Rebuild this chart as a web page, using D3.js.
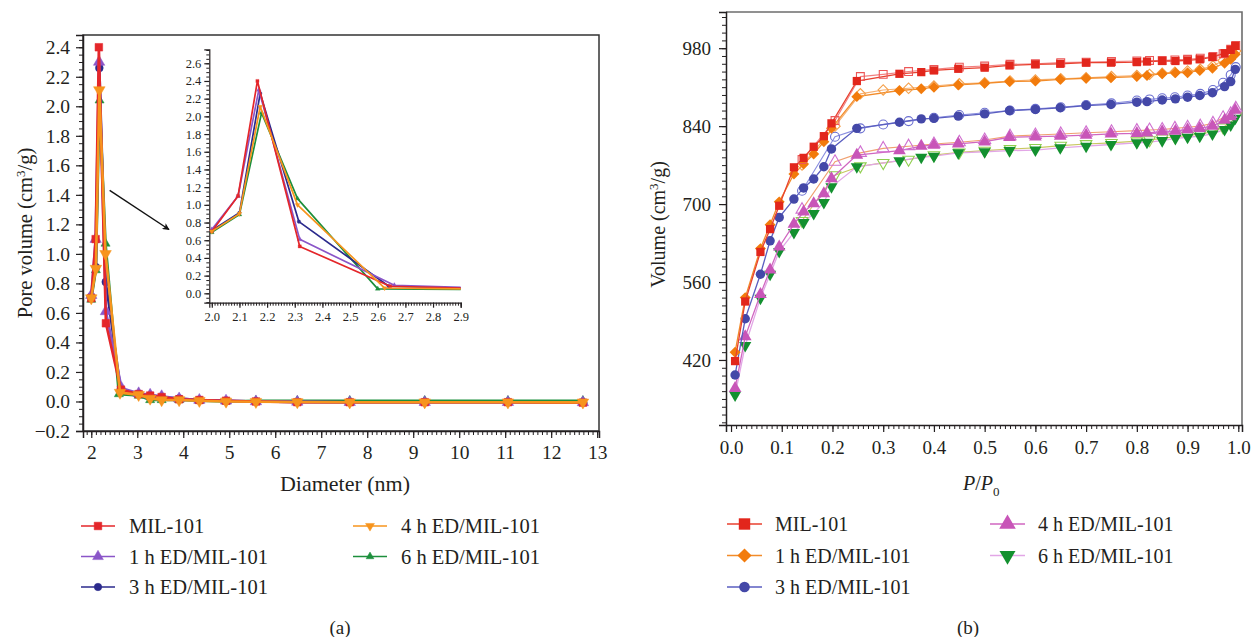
<!DOCTYPE html>
<html>
<head>
<meta charset="utf-8">
<script src="https://cdn.jsdelivr.net/npm/d3@7"></script>
<style>
  body { margin: 0; background: #fff; }
  text { font-family: "Liberation Serif", "DejaVu Serif", serif; fill: #231f20; }
</style>
</head>
<body>
<svg id="fig" width="1253" height="637"></svg>
<script>
// ---------------- shared ----------------
const sampleNames = ["MIL-101", "1 h ED/MIL-101", "3 h ED/MIL-101", "4 h ED/MIL-101", "6 h ED/MIL-101"];

// ---------------- (a) pore size distribution ----------------
// first five diameters differ slightly between samples, the tail is shared
const psdHeadMIL = [2.0, 2.095, 2.165, 2.318, 2.645];
const psdHead1h  = [2.0, 2.095, 2.170, 2.318, 2.660];
const psdHead3h  = [2.0, 2.100, 2.175, 2.315, 2.640];
const psdHead4h  = [2.0, 2.100, 2.175, 2.310, 2.625];
const psdHead6h  = [2.0, 2.100, 2.180, 2.310, 2.600];
const psdTail    = [3.03, 3.28, 3.53, 3.91, 4.35, 4.93, 5.58, 6.48, 7.62, 9.25, 11.06, 12.69];

const poreMIL = [0.70, 1.10, 2.40, 0.53, 0.08, 0.050, 0.040, 0.030, 0.015, 0.010, 0.005, 0.000, -0.005, -0.005, -0.005, -0.005, -0.008];
const pore1h  = [0.72, 1.10, 2.30, 0.61, 0.09, 0.055, 0.045, 0.035, 0.020, 0.010, 0.005, 0.000, -0.003, -0.005, -0.005, -0.005, -0.006];
const pore3h  = [0.71, 0.91, 2.26, 0.81, 0.08, 0.050, 0.040, 0.030, 0.020, 0.010, 0.005, 0.000, -0.003, -0.005, -0.005, -0.005, -0.006];
const pore4h  = [0.70, 0.90, 2.11, 1.00, 0.06, 0.045, 0.020, 0.010, 0.010, 0.005, 0.000, -0.002, -0.004, -0.005, -0.005, -0.005, -0.006];
const pore6h  = [0.69, 0.89, 2.04, 1.07, 0.05, 0.040, 0.010, 0.010, 0.010, 0.005, 0.000, 0.005, 0.005, 0.005, 0.005, 0.005, 0.005];

const psdColors = ["#e4262a", "#8a55c8", "#2b2a8c", "#f7941d", "#1d8f3c"];
const psdShapes = ["square", "triUp", "circle", "triDown", "triUp"];
const psdSizes  = [58, 56, 48, 58, 36];
const psdLegendSizes = [58, 50, 44, 34, 26];

const psdXTicks = d3.range(2, 14);
const psdYTicks = d3.range(-1, 13).map(i => i / 5);
const insetXTicks = d3.range(20, 30).map(i => i / 10);
const insetYTicks = d3.range(0, 14).map(i => i / 5);

// ---------------- (b) N2 isotherms ----------------
const pAds = [0.008, 0.028, 0.058, 0.077, 0.095, 0.124, 0.143, 0.163, 0.183, 0.198, 0.248, 0.332, 0.375, 0.400, 0.448, 0.500,
              0.549, 0.600, 0.649, 0.700, 0.749, 0.800, 0.820, 0.850, 0.876, 0.900, 0.924, 0.949, 0.973, 0.985, 0.994];
const adsMIL = [418, 525, 614, 655, 697, 766, 783, 803, 822, 845, 921, 934, 937, 940, 943, 945, 949, 951, 952, 954, 954, 955, 956, 957, 957, 958, 960, 964, 971, 977, 984];
const ads1h  = [434, 532, 620, 663, 704, 754, 772, 790, 812, 836, 893, 904, 907, 910, 914, 917, 920, 921, 924, 926, 927, 929, 931, 934, 936, 936, 940, 944, 953, 960, 969];
const ads3h  = [393, 494, 574, 634, 676, 709, 729, 745, 767, 799, 836, 847, 853, 854, 858, 862, 868, 870, 873, 877, 879, 883, 884, 887, 889, 892, 895, 900, 911, 920, 942];
const ads4h  = [369, 462, 538, 582, 623, 664, 686, 701, 719, 746, 788, 796, 804, 806, 808, 812, 820, 821, 822, 824, 826, 827, 828, 830, 831, 834, 836, 840, 851, 857, 869];
const ads6h  = [357, 446, 531, 574, 615, 649, 667, 683, 703, 731, 767, 778, 784, 786, 792, 794, 796, 797, 801, 804, 807, 810, 811, 814, 818, 820, 822, 826, 834, 842, 854];

const pDes = [0.995, 0.985, 0.970, 0.950, 0.925, 0.900, 0.875, 0.850, 0.825, 0.800, 0.750, 0.700, 0.650, 0.600, 0.550, 0.500,
              0.450, 0.400, 0.350, 0.300, 0.255, 0.205, 0.140];
const desMIL = [985, 978, 970, 965, 962, 960, 959, 958, 958, 957, 956, 955, 954, 952, 951, 948, 946, 942, 938, 933, 929, 850, 780];
const des1h  = [975, 965, 958, 948, 942, 939, 937, 935, 933, 931, 929, 927, 925, 923, 921, 918, 916, 912, 908, 905, 898, 840, 770];
const des3h  = [946, 932, 918, 905, 898, 895, 892, 890, 888, 886, 881, 878, 874, 871, 868, 864, 860, 855, 849, 843, 836, 821, 724];
const des4h  = [872, 862, 855, 845, 840, 838, 836, 834, 833, 832, 830, 828, 826, 824, 822, 815, 811, 808, 804, 800, 792, 776, 690];
const des6h  = [858, 846, 838, 830, 826, 823, 821, 818, 815, 813, 810, 808, 805, 801, 799, 796, 793, 788, 780, 774, 768, 752, 670];

const isoMarkColors = ["#e2261c", "#f27b0c", "#4448a8", "#c855b8", "#13902f"];
const isoAdsLine    = ["#e8402f", "#f28c2a", "#5a5ec0", "#d066c0", "#e2a6e6"];
const isoDesMark    = ["#ec5656", "#f5a04a", "#6a6ed0", "#d070d0", "#8fcf4f"];
const isoDesLine    = ["#f28080", "#f7b070", "#8a8ee0", "#f0a070", "#c8c860"];
const isoShapes = ["square", "diamond", "circle", "triUp", "triDown"];
const isoSizes  = [68, 60, 70, 70, 64];
const isoLegendSizes = [130, 100, 88, 120, 110];

const isoXTicks = d3.range(0, 11).map(i => i / 10);
const isoYTicks = [420, 560, 700, 840, 980];

// ---------------- helpers ----------------
const svg = d3.select("#fig");
const symbolTypes = {
  square:  [d3.symbolSquare, 0],
  circle:  [d3.symbolCircle, 0],
  triUp:   [d3.symbolTriangle, 0],
  triDown: [d3.symbolTriangle, 180],
  diamond: [d3.symbolSquare, 45]
};
function drawMarks(g, pts, shape, size, fill, stroke, sw) {
  const [type, rot] = symbolTypes[shape];
  g.selectAll(null).data(pts).join("path")
    .attr("d", d3.symbol(type, size)())
    .attr("transform", d => `translate(${d[0]},${d[1]}) rotate(${rot})`)
    .attr("fill", fill)
    .attr("stroke", stroke)
    .attr("stroke-width", sw);
}
function styleAxis(g, fontSize) {
  g.attr("font-family", null);
  g.selectAll("text").style("font-size", fontSize + "px").attr("fill", "#231f20");
  g.selectAll("line").attr("stroke", "#231f20").attr("stroke-width", 1.2);
  g.select(".domain").attr("stroke", "#231f20").attr("stroke-width", 1.5);
}
function minorAxis(g, axis) {
  g.call(axis);
  g.select(".domain").remove();
  g.selectAll("line").attr("stroke", "#231f20").attr("stroke-width", 1);
}
const fmt1 = d3.format(".1f");

// ================= panel (a) =================
const A = { l: 83, t: 35, r: 599, b: 431 };
const xA = d3.scaleLinear().domain([1.82, 13.04]).range([A.l, A.r]);
const yA = d3.scaleLinear().domain([-0.2, 2.483]).range([A.b, A.t]);
const gA = svg.append("g");

// frame
gA.append("rect").attr("x", A.l).attr("y", A.t).attr("width", A.r - A.l).attr("height", A.b - A.t)
  .attr("fill", "none").attr("stroke", "#333").attr("stroke-width", 1.5);

minorAxis(gA.append("g").attr("transform", `translate(0,${A.b})`),
  d3.axisBottom(xA).tickValues(d3.range(19, 131).map(i => i / 10)).tickSize(4).tickFormat(""));
minorAxis(gA.append("g").attr("transform", `translate(${A.l},0)`),
  d3.axisLeft(yA).tickValues(d3.range(-4, 50).map(i => i / 20)).tickSize(4).tickFormat(""));
gA.append("g").attr("transform", `translate(0,${A.b})`)
  .call(d3.axisBottom(xA).tickValues(psdXTicks).tickSize(7).tickPadding(7).tickFormat(d3.format("d")))
  .call(g => styleAxis(g, 19.5));
gA.append("g").attr("transform", `translate(${A.l},0)`)
  .call(d3.axisLeft(yA).tickValues(psdYTicks).tickSize(7).tickPadding(6).tickFormat(fmt1))
  .call(g => styleAxis(g, 19.5));

// axis titles
gA.append("text").attr("x", (A.l + A.r) / 2 + 4).attr("y", 491).attr("text-anchor", "middle")
  .style("font-size", "22px").text("Diameter (nm)");
const ytA = gA.append("text").attr("transform", `translate(32,${(A.t + A.b) / 2}) rotate(-90)`)
  .attr("text-anchor", "middle").style("font-size", "20.5px");
ytA.append("tspan").text("Pore volume (cm");
ytA.append("tspan").attr("dy", -7).style("font-size", "13px").text("3");
ytA.append("tspan").attr("dy", 7).text("/g)");

const psdHeads = [psdHeadMIL, psdHead1h, psdHead3h, psdHead4h, psdHead6h];
const psdVals  = [poreMIL, pore1h, pore3h, pore4h, pore6h];
const psdSeries = sampleNames.map((name, i) => ({
  name, color: psdColors[i], shape: psdShapes[i], size: psdSizes[i],
  pts: psdHeads[i].concat(psdTail).map((d, j) => [d, psdVals[i][j]])
}));
// drawing order: 6 h, 3 h, 1 h, MIL-101, 4 h
const psdOrder = [4, 2, 1, 0, 3];

const clipA = svg.append("clipPath").attr("id", "clipA");
clipA.append("rect").attr("x", A.l).attr("y", A.t).attr("width", A.r - A.l).attr("height", A.b - A.t);
const plotA = gA.append("g").attr("clip-path", "url(#clipA)");
const lineA = d3.line().x(d => xA(d[0])).y(d => yA(d[1]));
psdOrder.forEach(i => {
  const s = psdSeries[i];
  plotA.append("path").attr("d", lineA(s.pts)).attr("fill", "none")
    .attr("stroke", s.color).attr("stroke-width", 2.6).attr("stroke-linejoin", "round");
  drawMarks(plotA.append("g"), s.pts.map(d => [xA(d[0]), yA(d[1])]), s.shape, s.size, s.color, s.color, 0.5);
});

// pointer arrow to the inset
const arrowFrom = [2.40, 1.43], arrowTo = [3.69, 1.165];
svg.append("defs").append("marker").attr("id", "arrowHead")
  .attr("viewBox", "0 0 10 10").attr("refX", 9).attr("refY", 5)
  .attr("markerWidth", 9).attr("markerHeight", 7).attr("markerUnits", "userSpaceOnUse")
  .attr("orient", "auto")
  .append("path").attr("d", "M0,0 L10,5 L0,10 L2.5,5 Z").attr("fill", "#111");
gA.append("line")
  .attr("x1", xA(arrowFrom[0])).attr("y1", yA(arrowFrom[1]))
  .attr("x2", xA(arrowTo[0])).attr("y2", yA(arrowTo[1]))
  .attr("stroke", "#111").attr("stroke-width", 1.4).attr("marker-end", "url(#arrowHead)");

// inset: zoom on the peak region
const I = { l: 209.3, t: 49.3, r: 460.7, b: 302.7 };
const xI = d3.scaleLinear().domain([1.991, 2.9]).range([I.l, I.r]);
const yI = d3.scaleLinear().domain([-0.106, 2.758]).range([I.b, I.t]);
const gI = gA.append("g");
gI.append("rect").attr("x", I.l).attr("y", I.t).attr("width", I.r - I.l).attr("height", I.b - I.t).attr("fill", "#fff");
minorAxis(gI.append("g").attr("transform", `translate(0,${I.b})`),
  d3.axisBottom(xI).tickValues(d3.range(200, 291).map(i => i / 100)).tickSize(3).tickFormat(""));
minorAxis(gI.append("g").attr("transform", `translate(${I.l},0)`),
  d3.axisLeft(yI).tickValues(d3.range(-2, 56).map(i => i / 20)).tickSize(3).tickFormat(""));
gI.append("g").attr("transform", `translate(0,${I.b})`)
  .call(d3.axisBottom(xI).tickValues(insetXTicks).tickSize(5).tickPadding(4).tickFormat(fmt1))
  .call(g => styleAxis(g, 12.5));
gI.append("g").attr("transform", `translate(${I.l},0)`)
  .call(d3.axisLeft(yI).tickValues(insetYTicks).tickSize(5).tickPadding(3).tickFormat(fmt1))
  .call(g => styleAxis(g, 12.5));
gI.selectAll(".domain").attr("stroke-width", 1.2);

const clipI = svg.append("clipPath").attr("id", "clipI");
clipI.append("rect").attr("x", I.l).attr("y", I.t).attr("width", I.r - I.l).attr("height", I.b - I.t);
const plotI = gI.append("g").attr("clip-path", "url(#clipI)");
const lineI = d3.line().x(d => xI(d[0])).y(d => yI(d[1]));
psdOrder.forEach(i => {
  const s = psdSeries[i];
  plotI.append("path").attr("d", lineI(s.pts)).attr("fill", "none")
    .attr("stroke", s.color).attr("stroke-width", 1.7).attr("stroke-linejoin", "round");
  drawMarks(plotI.append("g"), s.pts.map(d => [xI(d[0]), yI(d[1])]), s.shape, 10, s.color, s.color, 0.3);
});

// legend (a)
const legA = [[81, 526], [81, 556.5], [81, 587], [353, 526], [353, 556.5]];
sampleNames.forEach((name, i) => {
  const [x0, y0] = legA[i];
  const g = gA.append("g");
  g.append("line").attr("x1", x0).attr("x2", x0 + 34).attr("y1", y0).attr("y2", y0)
    .attr("stroke", psdColors[i]).attr("stroke-width", 1.5);
  drawMarks(g, [[x0 + 17, y0]], psdShapes[i], psdLegendSizes[i], psdColors[i], psdColors[i], 0.5);
  g.append("text").attr("x", x0 + 48).attr("y", y0 + 7).style("font-size", "20.5px").text(name);
});
svg.append("text").attr("x", 340).attr("y", 634).attr("text-anchor", "middle").style("font-size", "19px").text("(a)");

// ================= panel (b) =================
const B = { l: 726, t: 12, r: 1242, b: 425 };
const xB = d3.scaleLinear().domain([-0.0099, 1.0073]).range([B.l, B.r]);
const yB = d3.scaleLinear().domain([303.2, 1045]).range([B.b, B.t]);
const gB = svg.append("g");

gB.append("path").attr("d", `M${B.l},${B.t} H${B.r} V${B.b}`).attr("fill", "none")
  .attr("stroke", "#6d6d6d").attr("stroke-width", 1.6);
minorAxis(gB.append("g").attr("transform", `translate(0,${B.b})`),
  d3.axisBottom(xB).tickValues(d3.range(0, 101).map(i => i / 100)).tickSize(4).tickFormat(""));
minorAxis(gB.append("g").attr("transform", `translate(${B.l},0)`),
  d3.axisLeft(yB).tickValues(d3.range(308, 1045, 14)).tickSize(4).tickFormat(""));
gB.append("g").attr("transform", `translate(0,${B.b})`)
  .call(d3.axisBottom(xB).tickValues(isoXTicks).tickSize(7).tickPadding(9).tickFormat(fmt1))
  .call(g => styleAxis(g, 19));
gB.append("g").attr("transform", `translate(${B.l},0)`)
  .call(d3.axisLeft(yB).tickValues(isoYTicks).tickSize(7).tickPadding(8).tickFormat(d3.format("d")))
  .call(g => styleAxis(g, 19));

const ytB = gB.append("text").attr("transform", `translate(665,${(B.t + B.b) / 2 + 6}) rotate(-90)`)
  .attr("text-anchor", "middle").style("font-size", "20px");
ytB.append("tspan").text("Volume (cm");
ytB.append("tspan").attr("dy", -7).style("font-size", "13px").text("3");
ytB.append("tspan").attr("dy", 7).text("/g)");
const xtB = gB.append("text").attr("x", 963).attr("y", 490).style("font-size", "20px").style("font-style", "italic");
xtB.append("tspan").text("P");
xtB.append("tspan").style("font-style", "normal").text("/");
xtB.append("tspan").text("P");
xtB.append("tspan").attr("dy", 6).style("font-size", "13px").style("font-style", "normal").text("0");

const adsSets = [adsMIL, ads1h, ads3h, ads4h, ads6h];
const desSets = [desMIL, des1h, des3h, des4h, des6h];
const lineB = d3.line().x(d => xB(d[0])).y(d => yB(d[1]));
const plotB = gB.append("g");
// drawing order: 6 h, 4 h, 3 h, 1 h, MIL-101
[4, 3, 2, 1, 0].forEach(i => {
  const ads = pAds.map((p, j) => [p, adsSets[i][j]]);
  const des = pDes.map((p, j) => [p, desSets[i][j]]);
  plotB.append("path").attr("d", lineB(des)).attr("fill", "none")
    .attr("stroke", isoDesLine[i]).attr("stroke-width", 1.1);
  plotB.append("path").attr("d", lineB(ads)).attr("fill", "none")
    .attr("stroke", isoAdsLine[i]).attr("stroke-width", 1.3);
  drawMarks(plotB.append("g"), des.map(d => [xB(d[0]), yB(d[1])]), isoShapes[i], isoSizes[i] * 0.9, "none", isoDesMark[i], 1.1);
  drawMarks(plotB.append("g"), ads.map(d => [xB(d[0]), yB(d[1])]), isoShapes[i], isoSizes[i], isoMarkColors[i], "none", 0);
});

// legend (b)
const legB = [[727, 524], [727, 555.5], [727, 587], [990, 524], [990, 555.5]];
sampleNames.forEach((name, i) => {
  const [x0, y0] = legB[i];
  const g = gB.append("g");
  g.append("line").attr("x1", x0).attr("x2", x0 + 35).attr("y1", y0).attr("y2", y0)
    .attr("stroke", isoAdsLine[i]).attr("stroke-width", 1.6);
  drawMarks(g, [[x0 + 17.5, y0]], isoShapes[i], isoLegendSizes[i], isoMarkColors[i], "none", 0);
  g.append("text").attr("x", x0 + 48).attr("y", y0 + 7).style("font-size", "20px").text(name);
});
svg.append("text").attr("x", 968).attr("y", 634).attr("text-anchor", "middle").style("font-size", "19px").text("(b)");
</script>
</body>
</html>
